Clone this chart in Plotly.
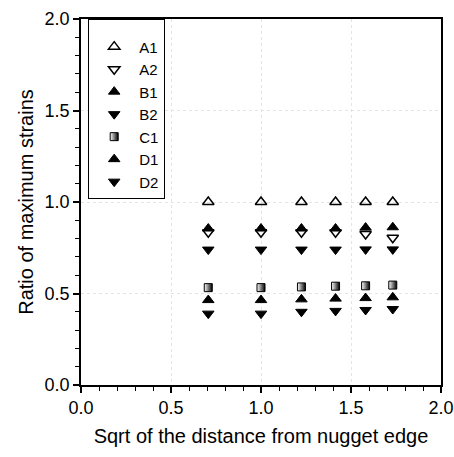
import numpy as np
import plotly.graph_objects as go

# Square root of the distance from the nugget edge
x_vals = list(np.sqrt([0.5, 1.0, 1.5, 2.0, 2.5, 3.0]))

# Ratio of maximum strains for each specimen series
a1 = [1.00, 1.00, 1.00, 1.00, 1.00, 1.00]
a2 = [0.835, 0.835, 0.835, 0.835, 0.825, 0.805]
b1 = [0.855, 0.855, 0.855, 0.855, 0.860, 0.862]
b2 = [0.740, 0.740, 0.740, 0.740, 0.741, 0.741]
c1 = [0.532, 0.532, 0.536, 0.540, 0.542, 0.546]
d1 = [0.464, 0.464, 0.468, 0.472, 0.475, 0.479]
d2 = [0.390, 0.390, 0.400, 0.405, 0.410, 0.415]

series = [
    ("A1", a1, "triangle-up-open", "black", None),
    ("A2", a2, "triangle-down-open", "black", None),
    ("B1", b1, "triangle-up", "black", None),
    ("B2", b2, "triangle-down", "black", None),
    ("C1", c1, "square", "white", dict(type="horizontal", color="black")),
    ("D1", d1, "triangle-up", "black", None),
    ("D2", d2, "triangle-down", "black", None),
]

fig = go.Figure()
for name, vals, sym, col, grad in series:
    marker = dict(symbol=sym, size=10, color=col,
                  line=dict(color="black", width=1.5 if "open" in sym else 1))
    if grad:
        marker["gradient"] = grad
        marker["size"] = 8
    fig.add_trace(go.Scatter(x=x_vals, y=vals, mode="markers", name=name,
                             marker=marker))

font_family = "Liberation Sans, Arial, sans-serif"
axis_common = dict(
    range=[0, 2.0], dtick=0.5, tickformat=".1f", automargin=False,
    showline=True, linecolor="black", linewidth=1.5, mirror=True,
    ticks="outside", ticklen=6, tickwidth=1.5, tickcolor="black",
    minor=dict(dtick=0.1, ticks="outside", ticklen=4, tickwidth=1,
               tickcolor="black", showgrid=False),
    showgrid=True, gridcolor="#e4e4e4", griddash="dot", gridwidth=1,
    zeroline=False,
    tickfont=dict(size=18, color="black", family=font_family),
)

fig.update_layout(
    width=454, height=457,
    margin=dict(l=81, r=13, t=19, b=72),
    paper_bgcolor="white", plot_bgcolor="white",
    font=dict(family=font_family, color="black"),
    showlegend=True,
    legend=dict(x=0.02, y=1.0, xanchor="left", yanchor="top",
                bordercolor="black", borderwidth=1, bgcolor="white",
                font=dict(size=15, color="black", family=font_family),
                title=dict(text=" ", font=dict(size=8)),
                itemwidth=40, tracegroupgap=0),
    xaxis=dict(axis_common,
               title=dict(text="Sqrt of the distance from nugget edge",
                          font=dict(size=20), standoff=12)),
    yaxis=dict(axis_common,
               title=dict(text="Ratio of maximum strains",
                          font=dict(size=20), standoff=6)),
)

fig.write_html("out.html")
